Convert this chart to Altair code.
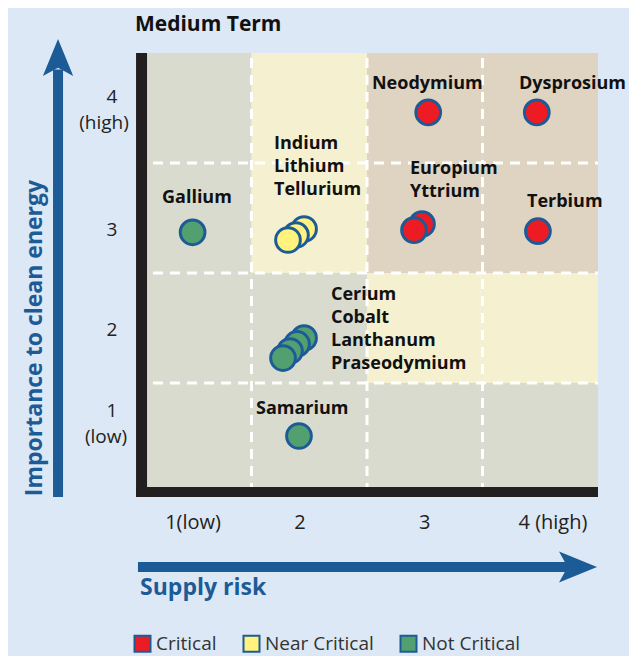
import altair as alt
import pandas as pd

# ---------------- data ----------------
# points (drawn back to front so the front circle of each cluster is on top)
elements = ["Gallium", "Tellurium", "Lithium", "Indium", "Neodymium", "Dysprosium",
            "Yttrium", "Europium", "Terbium",
            "Praseodymium", "Lanthanum", "Cobalt", "Cerium", "Samarium"]
supply_risk = [0.99, 1.955, 1.885, 1.816, 3.03, 3.97,
               2.976, 2.907, 3.98,
               1.955, 1.894, 1.833, 1.773, 1.911]
importance = [2.87, 2.90, 2.845, 2.80, 3.96, 3.96,
              2.945, 2.89, 2.88,
              1.909, 1.855, 1.791, 1.727, 1.018]
status = ["Not Critical", "Near Critical", "Near Critical", "Near Critical", "Critical", "Critical",
          "Critical", "Critical", "Critical",
          "Not Critical", "Not Critical", "Not Critical", "Not Critical", "Not Critical"]

# point labels (left edge / first line, in data units)
label_text = ["Neodymium", "Dysprosium", "Gallium", "Indium\nLithium\nTellurium",
              "Europium\nYttrium", "Terbium", "Cerium\nCobalt\nLanthanum\nPraseodymium", "Samarium"]
label_x = [2.543, 3.815, 0.725, 1.695, 2.872, 3.885, 2.188, 1.539]
label_y = [4.218, 4.218, 3.182, 3.673, 3.445, 3.145, 2.30, 1.264]

# background cells (column = supply risk, row = importance)
cell_col = [1, 2, 3, 4] * 4
cell_row = [4] * 4 + [3] * 4 + [2] * 4 + [1] * 4
cell_zone = ["low", "medium", "high", "high",
             "low", "medium", "high", "high",
             "low", "low", "medium", "medium",
             "low", "low", "low", "low"]
grid_at = [1.5, 2.5, 3.5]

# tick labels
xtick_text = ["1(low)", "2", "3", "4 (high)"]
xtick_pos = [0.994, 1.92, 3.0, 4.11]
ytick_text = ["4", "(high)", "3", "2", "1", "(low)"]
ytick_x = [0.292, 0.223, 0.292, 0.292, 0.292, 0.24]
ytick_y = [4.10, 3.864, 2.891, 1.982, 1.245, 1.009]

status_order = ["Critical", "Near Critical", "Not Critical"]
zone_order = ["low", "medium", "high"]

# ---------------- styling ----------------
BLUE = "#1d5b96"
FONT = "Open Sans"
xs = alt.Scale(domain=[0.5, 4.5], nice=False, zero=False)
ys = alt.Scale(domain=[0.5, 4.5], nice=False, zero=False)

cells = pd.DataFrame({"col": cell_col, "row": cell_row, "zone": cell_zone})
cells["x0"] = cells["col"] - 0.5
cells["x1"] = cells["col"] + 0.5
cells["y0"] = cells["row"] - 0.5
cells["y1"] = cells["row"] + 0.5

pts = pd.DataFrame({"element": elements, "x": supply_risk, "y": importance, "status": status})
labels = pd.DataFrame({"text": label_text, "x": label_x, "y": label_y})
vgrid = pd.DataFrame({"x": grid_at, "y0": [0.5] * 3, "y1": [4.5] * 3})
hgrid = pd.DataFrame({"y": grid_at, "x0": [0.5] * 3, "x1": [4.5] * 3})
xticks = pd.DataFrame({"text": xtick_text, "x": xtick_pos, "y": [0.227] * 4})
yticks = pd.DataFrame({"text": ytick_text, "y": ytick_y, "x": ytick_x})

# frame + arrows (data units)
frame_left = pd.DataFrame({"x": [0.548], "y0": [0.464], "y1": [4.5]})
frame_bottom = pd.DataFrame({"y": [0.509], "x0": [0.5], "x1": [4.5]})
yarrow = pd.DataFrame({"x": [-0.175], "y0": [0.464], "y1": [4.35]})
yhead = pd.DataFrame({"x": [-0.175], "y": [4.459]})
xarrow = pd.DataFrame({"y": [-0.173], "x0": [0.517], "x1": [4.30]})
xhead = pd.DataFrame({"x": [4.327], "y": [-0.173]})
texts = pd.DataFrame({"text": ["Supply risk"], "x": [0.535], "y": [-0.364]})
ytitle = pd.DataFrame({"text": ["Importance to clean energy"], "x": [-0.374], "y": [1.909]})
title = pd.DataFrame({"text": ["Medium Term"], "x": [0.491], "y": [4.70]})

X = lambda f: alt.X(f, type="quantitative", scale=xs, axis=None)
Y = lambda f: alt.Y(f, type="quantitative", scale=ys, axis=None)

cell_layer = alt.Chart(cells).mark_rect().encode(
    x=X("x0"), x2="x1", y=Y("y0"), y2="y1",
    fill=alt.Fill("zone:N", scale=alt.Scale(domain=zone_order,
                                            range=["#d9dbcf", "#f5f0cf", "#dfd3c2"]), legend=None),
)
vg = alt.Chart(vgrid).mark_rule(color="white", strokeWidth=3, strokeDash=[10, 7]).encode(
    x=X("x"), y=Y("y0"), y2="y1")
hg = alt.Chart(hgrid).mark_rule(color="white", strokeWidth=3, strokeDash=[10, 7]).encode(
    y=Y("y"), x=X("x0"), x2="x1")
fl = alt.Chart(frame_left).mark_rule(color="#231f20", strokeWidth=11).encode(
    x=X("x"), y=Y("y0"), y2="y1")
fb = alt.Chart(frame_bottom).mark_rule(color="#231f20", strokeWidth=10).encode(
    y=Y("y"), x=X("x0"), x2="x1")

points = alt.Chart(pts).mark_circle(size=610, stroke=BLUE, strokeWidth=3, opacity=1).encode(
    x=X("x"), y=Y("y"),
    fill=alt.Fill("status:N", sort=status_order,
                  scale=alt.Scale(domain=status_order, range=["#ed1c24", "#fff37e", "#52a070"]),
                  legend=alt.Legend(title=None, orient="none", legendX=-3, legendY=581,
                                    direction="horizontal", symbolType="square", symbolSize=256,
                                    symbolStrokeColor=BLUE, symbolStrokeWidth=2, symbolOpacity=1,
                                    labelFontSize=19, labelFont=FONT, labelColor="#333333",
                                    columnPadding=22, labelOffset=4)),
    order=alt.Order("idx:Q"),
).transform_window(idx="row_number()")

lab = alt.Chart(labels).mark_text(align="left", baseline="middle", font=FONT, fontSize=18,
                                  fontWeight="bold", color="#111111", lineBreak="\n",
                                  lineHeight=23).encode(x=X("x"), y=Y("y"), text="text")
xt = alt.Chart(xticks).mark_text(align="center", baseline="middle", font=FONT, fontSize=20,
                                 color="#222222").encode(x=X("x"), y=Y("y"), text="text")
yt = alt.Chart(yticks).mark_text(align="center", baseline="middle", font=FONT, fontSize=19,
                                 color="#222222").encode(x=X("x"), y=Y("y"), text="text")

ya = alt.Chart(yarrow).mark_rule(color=BLUE, strokeWidth=10).encode(x=X("x"), y=Y("y0"), y2="y1")
yh = alt.Chart(yhead).mark_point(shape="M0,-1 L0.82,1 L0,0.55 L-0.82,1 Z", size=1369,
                                 filled=True, color=BLUE, opacity=1).encode(x=X("x"), y=Y("y"))
xa = alt.Chart(xarrow).mark_rule(color=BLUE, strokeWidth=10).encode(y=Y("y"), x=X("x0"), x2="x1")
xh = alt.Chart(xhead).mark_point(shape="M1,0 L-1,-0.82 L-0.55,0 L-1,0.82 Z", size=1444,
                                 filled=True, color=BLUE, opacity=1).encode(x=X("x"), y=Y("y"))
xl = alt.Chart(texts).mark_text(align="left", baseline="middle", font=FONT, fontSize=23,
                                fontWeight="bold", color=BLUE).encode(x=X("x"), y=Y("y"), text="text")
yl = alt.Chart(ytitle).mark_text(align="center", baseline="middle", font=FONT, fontSize=23,
                                 fontWeight="bold", color=BLUE, angle=270).encode(
    x=X("x"), y=Y("y"), text="text")
tl = alt.Chart(title).mark_text(align="left", baseline="alphabetic", font=FONT, fontSize=21,
                                fontWeight="bold", color="#111111").encode(
    x=X("x"), y=Y("y"), text="text")

chart = alt.layer(cell_layer, vg, hg, fl, fb, points, lab, xt, yt, ya, yh, xa, xh, xl, yl, tl).resolve_scale(
    fill="independent"
).properties(
    width=462, height=440,
    autosize=alt.AutoSizeParams(type="none"),
    padding={"left": 128, "top": 45, "right": 31, "bottom": 163},
    background="#dce8f5",
).configure_view(stroke=None)

chart.save("out.html", embed_options={"renderer": "svg", "actions": False})
